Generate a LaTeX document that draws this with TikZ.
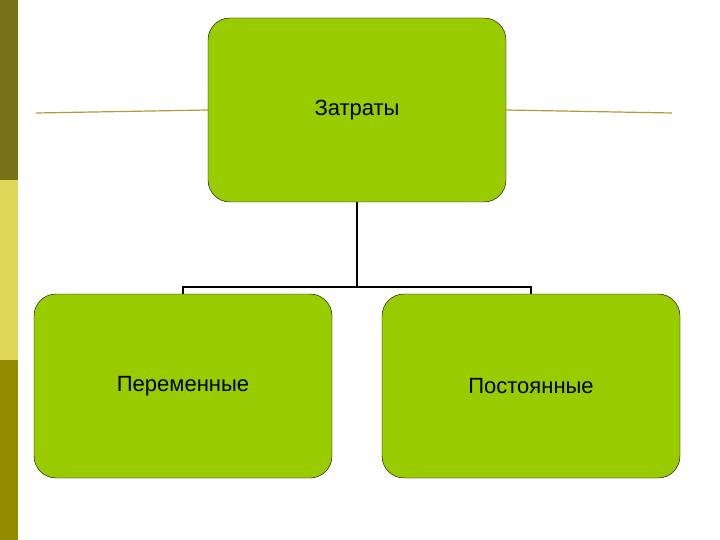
\documentclass[tikz,border=0pt]{standalone}
\usepackage{fontspec}
\setmainfont{Liberation Sans}
\begin{document}
\begin{tikzpicture}[x=1pt,y=-1pt,
  box/.style={draw=black,fill=boxg,rounded corners=22pt,minimum width=298pt,minimum height=184pt,font=\fontsize{22}{26}\selectfont},
  conn/.style={draw=black,line width=1.2pt}]
\definecolor{boxg}{HTML}{99CC00}
\definecolor{linec}{HTML}{B09A3A}
\useasboundingbox (0,0) rectangle (720,540);
\fill[white] (0,0) rectangle (720,540);
\fill[olive!80!black] (0,0) rectangle (18,180);
\fill[yellow!50!olive!60!white] (0,180) rectangle (18,360);
\fill[olive!95!yellow] (0,360) rectangle (18,540);
\node[box] (top) at (357,110) {Затраты};
\node[box] (left) at (183,386) {Переменные};
\node[box] (right) at (531,386) {Постоянные};
\coordinate (l1) at (36,113);
\coordinate (r1) at (672,113);
\draw[linec,line width=1.2pt] (l1) -- (top.west);
\draw[linec,line width=1.2pt] (top.east) -- (r1);
\coordinate (j) at (357,287);
\draw[conn] (top.south) -- (j);
\draw[conn] (left.north) -- (183,287) -- (531,287) -- (right.north);
\end{tikzpicture}
\end{document}
